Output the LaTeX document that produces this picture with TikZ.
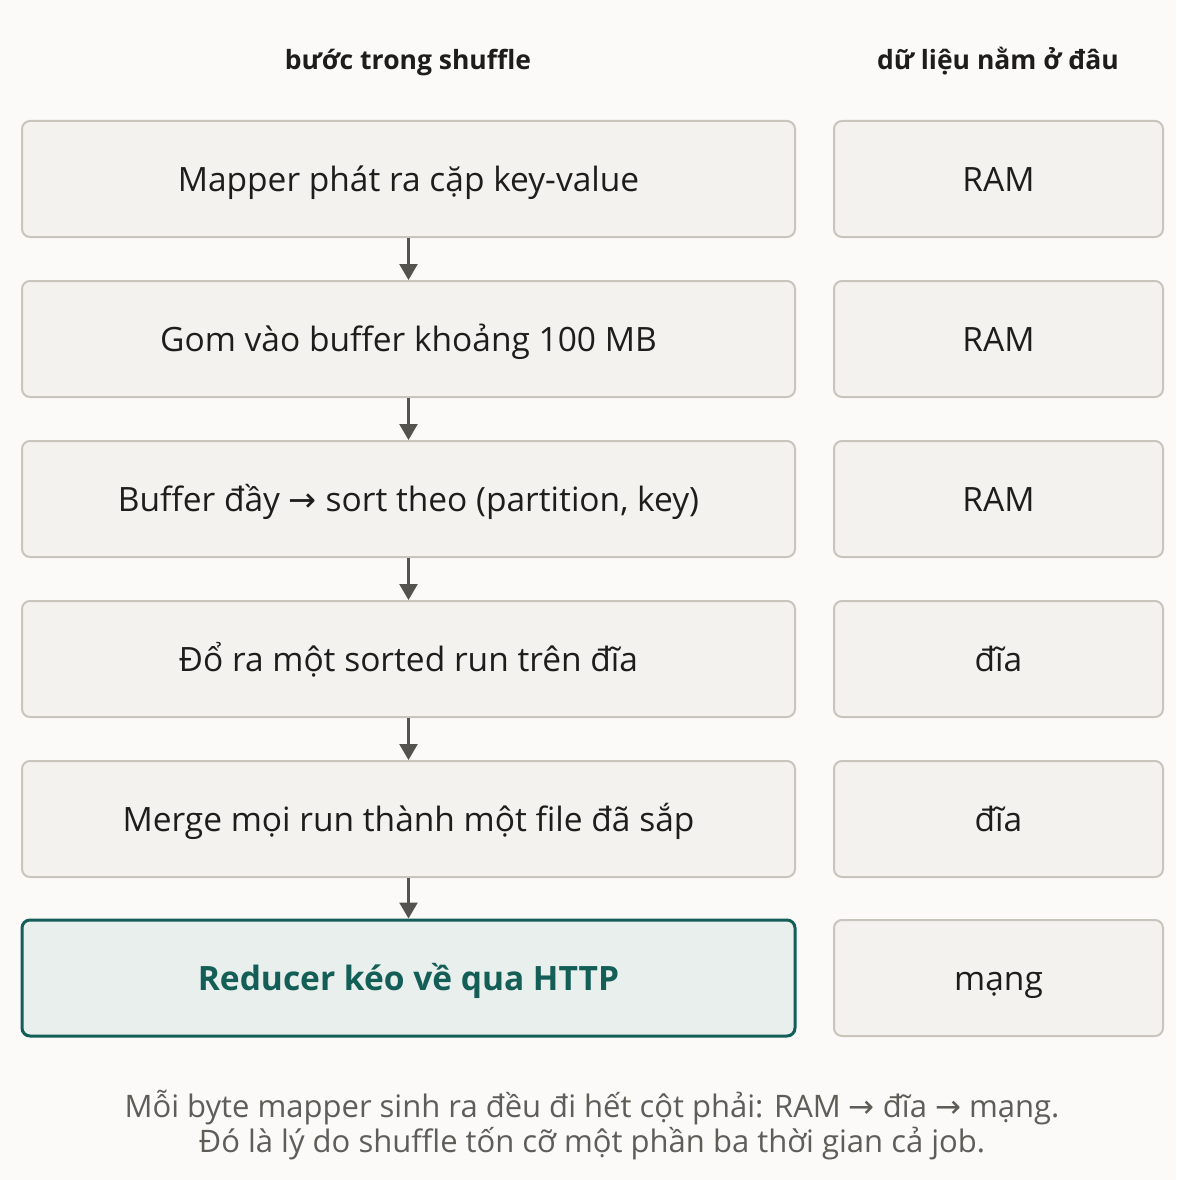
\documentclass[tikz,border=0pt]{standalone}
\usepackage{fontspec}
\setmainfont{Open Sans}
\newfontfamily\arrowfont{DejaVu Sans}
\usetikzlibrary{positioning}
\usetikzlibrary{arrows.meta}
\definecolor{pagebg}{HTML}{FBFAF8}
\definecolor{boxfill}{HTML}{F3F2EF}
\definecolor{boxline}{HTML}{C9C5BC}
\definecolor{flowgray}{HTML}{55534E}
\definecolor{inkdark}{HTML}{1E1D1B}
\definecolor{notegray}{HTML}{5F5D58}
\definecolor{tealline}{HTML}{135E57}
\definecolor{tealfill}{HTML}{E9EFEC}
\newcommand{\rarr}{{\arrowfont\char"2192}}

\begin{document}
\begin{tikzpicture}[x=1pt,y=-1pt,
  stepbox/.style={draw=boxline,fill=boxfill,line width=2pt,rounded corners=8pt,
    minimum width=773pt,minimum height=116pt,inner sep=0pt,text=inkdark,
    text height=24pt,text depth=0pt,font=\fontsize{33.5}{38}\selectfont},
  placebox/.style={stepbox,minimum width=329pt},
  hotbox/.style={stepbox,draw=tealline,fill=tealfill,line width=3pt,text=tealline,
    font=\fontsize{33.5}{38}\selectfont\bfseries},
  headtext/.style={text=inkdark,text height=19pt,text depth=0pt,
    font=\fontsize{26.5}{30}\selectfont\bfseries},
  notetext/.style={text=notegray,anchor=base,font=\fontsize{31}{35}\selectfont},
  flow/.style={draw=flowgray,line width=2.5pt,-{Triangle[length=16pt,width=18pt]}}]
 \useasboundingbox[fill=pagebg] (0,0) rectangle (1176,1180);
 % headers
 \node[headtext] (headstep) at (408,60) {bước trong shuffle};
 \node[headtext] (headplace) at (998,60) {dữ liệu nằm ở đâu};
 % left column
 \node[stepbox] (emit) at (408.5,179) {Mapper phát ra cặp key-value};
 \node[stepbox] (buffer) at (408.5,339) {Gom vào buffer khoảng 100 MB};
 \node[stepbox] (sort) at (408.5,499) {Buffer đầy \rarr\ sort theo (partition, key)};
 \node[stepbox] (spill) at (408.5,659) {Đổ ra một sorted run trên đĩa};
 \node[stepbox] (merge) at (408.5,819) {Merge mọi run thành một file đã sắp};
 \node[hotbox] (fetch) at (408.5,978) {Reducer kéo về qua HTTP};
 % right column
 \node[placebox] (emitat) at (998.5,179) {RAM};
 \node[placebox] (bufferat) at (998.5,339) {RAM};
 \node[placebox] (sortat) at (998.5,499) {RAM};
 \node[placebox] (spillat) at (998.5,659) {đĩa};
 \node[placebox] (mergeat) at (998.5,819) {đĩa};
 \node[placebox] (fetchat) at (998.5,978) {mạng};
 % arrows
 \draw[flow] (emit) -- (buffer);
 \draw[flow] (buffer) -- (sort);
 \draw[flow] (sort) -- (spill);
 \draw[flow] (spill) -- (merge);
 \draw[flow] (merge) -- (fetch);
 % note
 \node[notetext] (noteone) at (592,1117)
  {Mỗi byte mapper sinh ra đều đi hết cột phải: RAM \rarr\ đĩa \rarr\ mạng.};
 \node[notetext] (notetwo) at (592,1152)
  {Đó là lý do shuffle tốn cỡ một phần ba thời gian cả job.};
\end{tikzpicture}
\end{document}
